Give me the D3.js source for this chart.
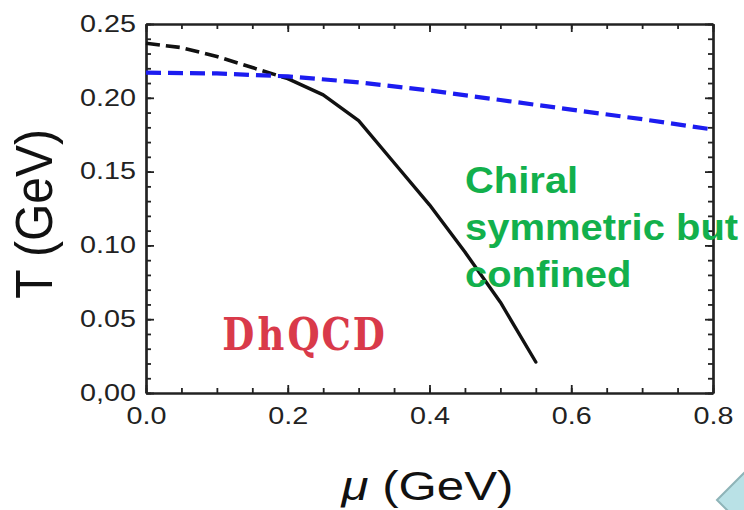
<!DOCTYPE html>
<html>
<head>
<meta charset="utf-8">
<script src="https://cdn.jsdelivr.net/npm/d3@7"></script>
<style>
  body { margin: 0; background: #fff; }
  svg { display: block; }
</style>
</head>
<body>
<div id="main"></div>
<script>
// values
const muDashed = [0.00, 0.05, 0.10, 0.15, 0.20];
const tDashed = [0.237, 0.234, 0.228, 0.2205, 0.213];

const muSolid = [0.20, 0.25, 0.30, 0.35, 0.40, 0.45, 0.50, 0.55];
const tSolid = [0.213, 0.202, 0.1845, 0.156, 0.1275, 0.0955, 0.0615, 0.021];

const muBlue = [0.0, 0.1, 0.2, 0.3, 0.4, 0.5, 0.6, 0.7, 0.8];
const tBlue = [0.217, 0.2165, 0.2145, 0.2105, 0.205, 0.1985, 0.192, 0.1855, 0.1785];

const xTicks = [0.0, 0.2, 0.4, 0.6, 0.8];
const xTickLabels = ["0.0", "0.2", "0.4", "0.6", "0.8"];
const yTicks = [0.00, 0.05, 0.10, 0.15, 0.20, 0.25];
const yTickLabels = ["0,00", "0.05", "0.10", "0.15", "0.20", "0.25"];

const greenLines = ["Chiral", "symmetric but", "confined"];
const modelName = "DhQCD";

class PhaseDiagram {
  constructor(config) {
    this.config = config;
    this.svg = null;
    this.plot = null;
    this.xScale = null;
    this.yScale = null;
    this.createSvg();
  }

  createSvg() {
    this.svg = d3.select(this.config.div)
      .append("svg")
      .attr("width", 744)
      .attr("height", 510);

    this.plot = this.svg.append("g")
      .attr("transform", `translate(${this.config.left},${this.config.top})`);
  }

  createScales() {
    this.xScale = d3.scaleLinear().domain([0, 0.8]).range([0, this.config.width]);
    this.yScale = d3.scaleLinear().domain([0, 0.25]).range([this.config.height, 0]);
  }

  styleAxis(g) {
    g.selectAll("path").attr("stroke", "#222").attr("stroke-width", 2.2);
    g.selectAll("line").attr("stroke", "#222").attr("stroke-width", 1.8);
  }

  createAxis() {
    const w = this.config.width, h = this.config.height;
    const xMinor = d3.range(0, 0.8001, 0.05);
    const yMinor = d3.range(0, 0.2501, 0.01);

    // minor ticks on all four sides
    const minors = [
      [d3.axisBottom(this.xScale).tickValues(xMinor), `translate(0,${h})`],
      [d3.axisTop(this.xScale).tickValues(xMinor), "translate(0,0)"],
      [d3.axisLeft(this.yScale).tickValues(yMinor), "translate(0,0)"],
      [d3.axisRight(this.yScale).tickValues(yMinor), `translate(${w},0)`]
    ];
    minors.forEach(([ax, tr]) => {
      this.plot.append("g")
        .attr("transform", tr)
        .call(ax.tickSize(-5).tickSizeOuter(0).tickFormat(""))
        .call(g => this.styleAxis(g));
    });

    const xAxis = d3.axisBottom(this.xScale)
      .tickValues(xTicks)
      .tickSize(-8)
      .tickSizeOuter(0)
      .tickPadding(15)
      .tickFormat((d, i) => xTickLabels[i]);

    const yAxis = d3.axisLeft(this.yScale)
      .tickValues(yTicks)
      .tickSize(-8)
      .tickSizeOuter(0)
      .tickPadding(10)
      .tickFormat((d, i) => yTickLabels[i]);

    this.plot.append("g")
      .attr("transform", `translate(0,${h})`)
      .call(xAxis)
      .call(g => this.styleAxis(g))
      .call(g => g.selectAll("text")
        .attr("font-family", "Arial, 'Liberation Sans', sans-serif")
        .attr("font-size", 23)
        .attr("fill", "#222")
        .attr("transform", "scale(1.25,1)"));

    this.plot.append("g")
      .call(yAxis)
      .call(g => this.styleAxis(g))
      .call(g => g.selectAll("text")
        .attr("font-family", "Arial, 'Liberation Sans', sans-serif")
        .attr("font-size", 23)
        .attr("fill", "#222")
        .attr("x", -10 / 1.25)
        .attr("transform", "scale(1.25,1)"));

    this.plot.append("g")
      .call(d3.axisTop(this.xScale).tickValues(xTicks).tickSize(-8).tickSizeOuter(0).tickFormat(""))
      .call(g => this.styleAxis(g));

    this.plot.append("g")
      .attr("transform", `translate(${w},0)`)
      .call(d3.axisRight(this.yScale).tickValues(yTicks).tickSize(-8).tickSizeOuter(0).tickFormat(""))
      .call(g => this.styleAxis(g));

    // axis titles
    const xt = this.svg.append("text")
      .attr("transform", `translate(${this.config.left + w / 2 - 2},500) scale(1.2,1)`)
      .attr("text-anchor", "middle")
      .attr("font-family", "Arial, 'Liberation Sans', sans-serif")
      .attr("font-size", 41)
      .attr("fill", "#111");
    xt.append("tspan").attr("font-style", "italic").text("μ");
    xt.append("tspan").text(" (GeV)");

    this.svg.append("text")
      .attr("transform", "translate(52,214) rotate(-90) scale(1,1.08)")
      .attr("text-anchor", "middle")
      .attr("font-family", "Arial, 'Liberation Sans', sans-serif")
      .attr("font-size", 48)
      .attr("fill", "#111")
      .text("T (GeV)");
  }

  renderLines() {
    const line = d3.line()
      .x(d => this.xScale(d[0]))
      .y(d => this.yScale(d[1]));

    this.plot.append("path")
      .datum(d3.zip(muDashed, tDashed))
      .attr("d", line)
      .attr("fill", "none")
      .attr("stroke", "#111")
      .attr("stroke-width", 3.6)
      .attr("stroke-dasharray", "14,6");

    this.plot.append("path")
      .datum(d3.zip(muSolid, tSolid))
      .attr("d", line)
      .attr("fill", "none")
      .attr("stroke", "#111")
      .attr("stroke-width", 3.4)
      .attr("stroke-linejoin", "round")
      .attr("stroke-linecap", "round");

    this.plot.append("path")
      .datum(d3.zip(muBlue, tBlue))
      .attr("d", line)
      .attr("fill", "none")
      .attr("stroke", "#1c1cf0")
      .attr("stroke-width", 4.2)
      .attr("stroke-dasharray", "15,7");
  }

  renderLabels() {
    // no Courier installed: squeeze a slab serif and set it on a fixed pitch
    const sx = 0.84, pitch = 32.6, left = 222;
    const name = this.svg.append("text")
      .attr("transform", `translate(0,350) scale(${sx},1)`)
      .attr("text-anchor", "middle")
      .attr("font-family", "'DejaVu Serif', serif")
      .attr("font-weight", "bold")
      .attr("font-size", 44)
      .attr("fill", "#d93a4a");
    modelName.split("").forEach((c, i) => {
      name.append("tspan")
        .attr("x", (left + pitch * (i + 0.5)) / sx)
        .text(c);
    });

    greenLines.forEach((t, i) => {
      this.svg.append("text")
        .attr("transform", `translate(465,${193 + i * 47}) scale(1.08,1)`)
        .attr("font-family", "Arial, 'Liberation Sans', sans-serif")
        .attr("font-weight", "bold")
        .attr("font-size", 37)
        .attr("fill", "#12b04c")
        .text(t);
    });

    // slide navigation arrow in the corner
    this.svg.append("polygon")
      .attr("points", "717,500 752,465 787,500 752,535")
      .attr("fill", "#b9e1e6")
      .attr("stroke", "#8eb4b8")
      .attr("stroke-width", 2);
  }
}

function main() {
  const config = {div: "#main", width: 567, height: 369, top: 24, left: 146};
  const chart = new PhaseDiagram(config);
  chart.createScales();
  chart.createAxis();
  chart.renderLines();
  chart.renderLabels();
}

main();
</script>
</body>
</html>
